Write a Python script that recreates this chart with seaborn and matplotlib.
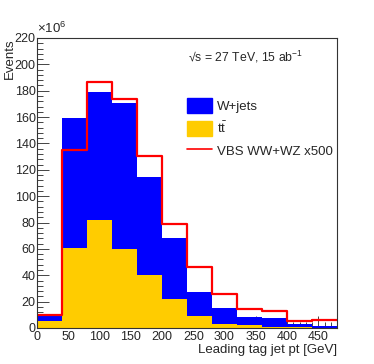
import numpy as np
import pandas as pd
import matplotlib
matplotlib.use("Agg")
import matplotlib.pyplot as plt
import seaborn as sns
from matplotlib.patches import Patch
from matplotlib.lines import Line2D
from matplotlib.ticker import MultipleLocator

# bin edges of the leading tag jet pt [GeV]
edges = [0, 40, 80, 120, 160, 200, 240, 280, 320, 360, 400, 440, 480]
centers = [20, 60, 100, 140, 180, 220, 260, 300, 340, 380, 420, 460]

# events in units of 1e6
ttbar = [5.3, 60.8, 81.6, 59.6, 40.3, 22.0, 8.9, 3.3, 2.0, 1.0, 0.5, 0.3]
wjets_total = [8.9, 159.0, 179.3, 170.5, 114.7, 68.4, 27.1, 15.0, 8.4, 7.9, 3.3, 1.8]
wjets = [t - b for t, b in zip(wjets_total, ttbar)]
vbs_x500 = [10.2, 135.0, 187.0, 173.8, 130.5, 78.8, 46.4, 25.8, 14.7, 12.7, 5.3, 6.4]

sns.set_style("ticks")
plt.rcParams["font.family"] = ["Liberation Sans", "DejaVu Sans"]
plt.rcParams["font.size"] = 9.5
plt.rcParams["mathtext.fontset"] = "custom"
plt.rcParams["mathtext.rm"] = "Liberation Sans"
plt.rcParams["mathtext.it"] = "Liberation Sans:italic"

df = pd.DataFrame({
    "pt": centers * 2,
    "events": ttbar + wjets,
    "process": ["tt"] * len(centers) + ["W+jets"] * len(centers),
})

fig = plt.figure(figsize=(3.74, 3.64), dpi=100)
ax = fig.add_axes([37 / 374, 1 - 328 / 364, 300 / 374, 290 / 364])

sns.histplot(data=df, x="pt", weights="events", hue="process",
             hue_order=["W+jets", "tt"], multiple="stack", bins=edges,
             element="step", fill=True, alpha=1, linewidth=0,
             palette={"W+jets": "#0000ff", "tt": "#ffcc00"},
             legend=False, ax=ax)
sns.histplot(x=centers, weights=vbs_x500, bins=edges, element="step",
             fill=False, color="#ff0000", linewidth=1.6, ax=ax)

ax.set_xlim(0, 480)
ax.set_ylim(0, 220)
ax.xaxis.set_major_locator(MultipleLocator(50))
ax.xaxis.set_minor_locator(MultipleLocator(10))
ax.yaxis.set_major_locator(MultipleLocator(20))
ax.yaxis.set_minor_locator(MultipleLocator(4))
ax.tick_params(which="both", direction="in", top=False, right=False, labelsize=9)
ax.tick_params(which="major", length=8.5, width=0.6, pad=2)
ax.tick_params(which="minor", length=4.5, width=0.6)
ax.tick_params(axis="y", which="major", pad=1)
for s in ax.spines.values():
    s.set_linewidth(0.8)
    s.set_color("#333333")

ax.set_xlabel("Leading tag jet pt [GeV]", loc="right", fontsize=9.5, labelpad=1)
ax.set_ylabel("Events", loc="top", fontsize=9.5)
ax.yaxis.set_label_coords(-0.072, 1.0)
ax.text(0.0, 1.008, r"×10$^{6}$", transform=ax.transAxes, fontsize=9.5,
        ha="left", va="bottom")
ax.text(0.503, 0.934, r"√s = 27 TeV, 15 ab$^{-1}$", transform=ax.transAxes,
        fontsize=8.8, ha="left", va="center")

handles = [Patch(facecolor="#0000ff", edgecolor="#0000ff"),
           Patch(facecolor="#ffcc00", edgecolor="#ffcc00"),
           Line2D([], [], color="#ff0000", linewidth=1.2)]
ax.legend(handles, ["W+jets", r"t$\bar{\mathrm{t}}$", "VBS WW+WZ x500"],
          loc="upper left", bbox_to_anchor=(0.483, 0.81), frameon=False,
          fontsize=9.5, handlelength=1.9, handleheight=1.35,
          labelspacing=0.55, handletextpad=0.35, borderaxespad=0)

fig.savefig("out.png", dpi=100)
